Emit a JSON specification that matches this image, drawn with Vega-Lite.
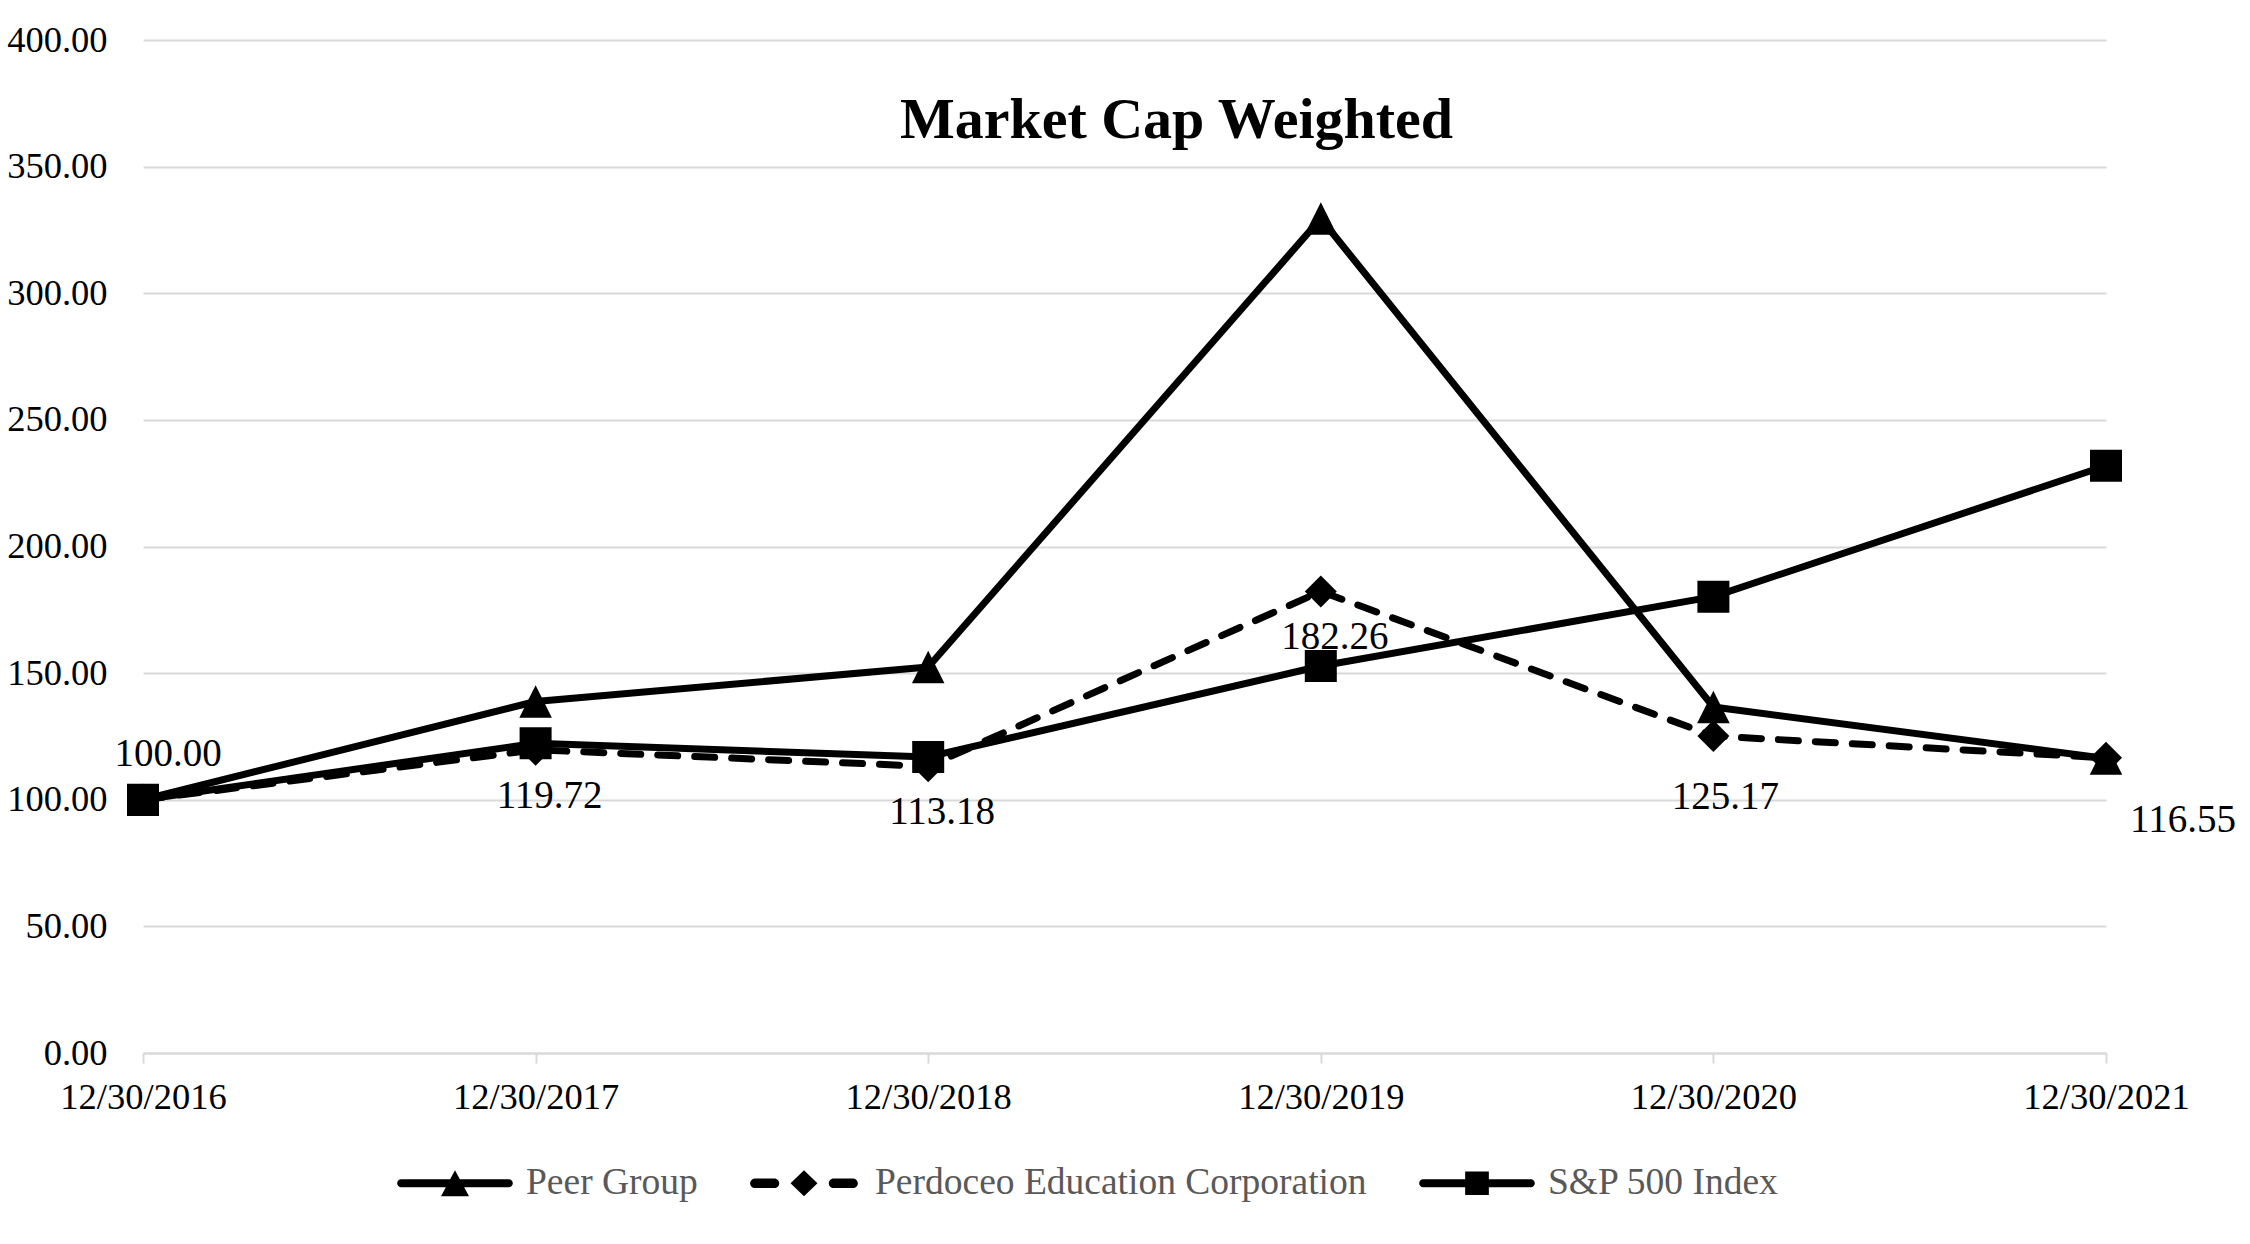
{
  "$schema": "https://vega.github.io/schema/vega-lite/v6.json",
  "autosize": {"type": "none"},
  "width": 1963,
  "height": 1013,
  "padding": {"left": 143, "top": 40, "right": 144, "bottom": 191},
  "background": "white",
  "title": {
    "text": "Market Cap Weighted",
    "frame": "group",
    "anchor": "middle",
    "orient": "top",
    "offset": -96,
    "baseline": "alphabetic",
    "dx": 52,
    "dy": 78,
    "font": "Liberation Serif",
    "fontSize": 58,
    "fontWeight": "bold",
    "color": "black"
  },
  "config": {
    "view": {"stroke": null},
    "axis": {"labelFont": "Liberation Serif", "labelColor": "black", "labelFontSize": 36.5}
  },
  "data": {
    "values": [
      {"date": "12/30/2016", "series": "Peer Group", "value": 100},
      {"date": "12/30/2017", "series": "Peer Group", "value": 138.8},
      {"date": "12/30/2018", "series": "Peer Group", "value": 152.4},
      {"date": "12/30/2019", "series": "Peer Group", "value": 329.5},
      {"date": "12/30/2020", "series": "Peer Group", "value": 136.6},
      {"date": "12/30/2021", "series": "Peer Group", "value": 116.3},
      {"date": "12/30/2016", "series": "Perdoceo Education Corporation", "value": 100},
      {"date": "12/30/2017", "series": "Perdoceo Education Corporation", "value": 119.72},
      {"date": "12/30/2018", "series": "Perdoceo Education Corporation", "value": 113.18},
      {"date": "12/30/2019", "series": "Perdoceo Education Corporation", "value": 182.26},
      {"date": "12/30/2020", "series": "Perdoceo Education Corporation", "value": 125.17},
      {"date": "12/30/2021", "series": "Perdoceo Education Corporation", "value": 116.55},
      {"date": "12/30/2016", "series": "S&P 500 Index", "value": 100},
      {"date": "12/30/2017", "series": "S&P 500 Index", "value": 122.3},
      {"date": "12/30/2018", "series": "S&P 500 Index", "value": 116.9},
      {"date": "12/30/2019", "series": "S&P 500 Index", "value": 152.8},
      {"date": "12/30/2020", "series": "S&P 500 Index", "value": 180.2},
      {"date": "12/30/2021", "series": "S&P 500 Index", "value": 231.9}
    ]
  },
  "encoding": {
    "x": {
      "field": "date",
      "type": "ordinal",
      "scale": {"type": "point", "padding": 0},
      "axis": {
        "title": null,
        "labelAngle": 0,
        "domainColor": "#d9d9d9",
        "domainWidth": 2,
        "tickColor": "#d9d9d9",
        "tickWidth": 2,
        "tickSize": 10,
        "labelPadding": 16,
        "grid": false
      }
    },
    "y": {
      "field": "value",
      "type": "quantitative",
      "scale": {"domain": [0, 400], "nice": false},
      "axis": {
        "title": null,
        "values": [0, 50, 100, 150, 200, 250, 300, 350, 400],
        "format": ".2f",
        "domain": false,
        "ticks": false,
        "labelPadding": 36,
        "gridColor": "#d9d9d9",
        "gridWidth": 2
      }
    }
  },
  "layer": [
    {
      "transform": [{"filter": "false"}],
      "mark": {"type": "point", "filled": true, "color": "black", "opacity": 1},
      "encoding": {
        "shape": {
          "field": "series",
          "type": "nominal",
          "scale": {
            "domain": ["Peer Group", "Perdoceo Education Corporation", "S&P 500 Index"],
            "range": [
              "M-1,-0.074H1A0.074,0.074 0 0 1 1,0.074H-1A0.074,0.074 0 0 1 -1,-0.074ZM0,-0.24L0.26,0.24L-0.26,0.24Z",
              "M-0.91,-0.09H-0.55A0.09,0.09 0 0 1 -0.55,0.09H-0.91A0.09,0.09 0 0 1 -0.91,-0.09ZM0.55,-0.09H0.91A0.09,0.09 0 0 1 0.91,0.09H0.55A0.09,0.09 0 0 1 0.55,-0.09ZM0,-0.24L0.25,0L0,0.24L-0.25,0Z",
              "M-1,-0.074H1A0.074,0.074 0 0 1 1,0.074H-1A0.074,0.074 0 0 1 -1,-0.074ZM-0.22,-0.22H0.22V0.22H-0.22Z"
            ]
          },
          "legend": {
            "title": null,
            "orient": "none",
            "legendX": 258,
            "legendY": 1089,
            "direction": "horizontal",
            "columns": 3,
            "labelFont": "Liberation Serif",
            "labelFontSize": 37.5,
            "labelColor": "#595959",
            "labelLimit": 1000,
            "labelOffset": 17,
            "columnPadding": 52,
            "symbolSize": 11600,
            "symbolStrokeWidth": 0,
            "symbolFillColor": "black",
            "symbolOpacity": 1
          }
        }
      }
    },
    {
      "transform": [{"filter": "datum.series !== 'Perdoceo Education Corporation'"}],
      "mark": {"type": "line", "color": "black", "strokeWidth": 7, "strokeCap": "round", "strokeJoin": "round"},
      "encoding": {"detail": {"field": "series", "type": "nominal"}}
    },
    {
      "transform": [{"filter": "datum.series === 'Perdoceo Education Corporation'"}],
      "mark": {"type": "line", "color": "black", "strokeWidth": 7, "strokeCap": "round", "strokeJoin": "round", "strokeDash": [20, 17]},
      "encoding": {}
    },
    {
      "transform": [{"filter": "datum.series === 'Peer Group'"}],
      "mark": {"type": "point", "filled": true, "color": "black", "opacity": 1, "size": 1060, "shape": "M0,-1L1,1L-1,1Z"},
      "encoding": {}
    },
    {
      "transform": [{"filter": "datum.series === 'Perdoceo Education Corporation'"}],
      "mark": {"type": "point", "filled": true, "color": "black", "opacity": 1, "size": 1024, "shape": "diamond"},
      "encoding": {}
    },
    {
      "transform": [{"filter": "datum.series === 'S&P 500 Index'"}],
      "mark": {"type": "point", "filled": true, "color": "black", "opacity": 1, "size": 1024, "shape": "square"},
      "encoding": {}
    },
    {
      "transform": [{"filter": "datum.series === 'Perdoceo Education Corporation' && datum.date === '12/30/2016'"}],
      "mark": {"type": "text", "font": "Liberation Serif", "fontSize": 39, "color": "black", "baseline": "middle", "align": "center", "dx": 25, "dy": -46},
      "encoding": {"text": {"field": "value", "type": "quantitative", "format": ".2f"}}
    },
    {
      "transform": [{"filter": "datum.series === 'Perdoceo Education Corporation' && (datum.date === '12/30/2017' || datum.date === '12/30/2018' || datum.date === '12/30/2019')"}],
      "mark": {"type": "text", "font": "Liberation Serif", "fontSize": 39, "color": "black", "baseline": "middle", "align": "center", "dx": 14, "dy": 46},
      "encoding": {"text": {"field": "value", "type": "quantitative", "format": ".2f"}}
    },
    {
      "transform": [{"filter": "datum.series === 'Perdoceo Education Corporation' && datum.date === '12/30/2020'"}],
      "mark": {"type": "text", "font": "Liberation Serif", "fontSize": 39, "color": "black", "baseline": "middle", "align": "center", "dx": 12, "dy": 61},
      "encoding": {"text": {"field": "value", "type": "quantitative", "format": ".2f"}}
    },
    {
      "transform": [{"filter": "datum.series === 'Perdoceo Education Corporation' && datum.date === '12/30/2021'"}],
      "mark": {"type": "text", "font": "Liberation Serif", "fontSize": 39, "color": "black", "baseline": "middle", "align": "center", "dx": 77, "dy": 62},
      "encoding": {"text": {"field": "value", "type": "quantitative", "format": ".2f"}}
    }
  ]
}
